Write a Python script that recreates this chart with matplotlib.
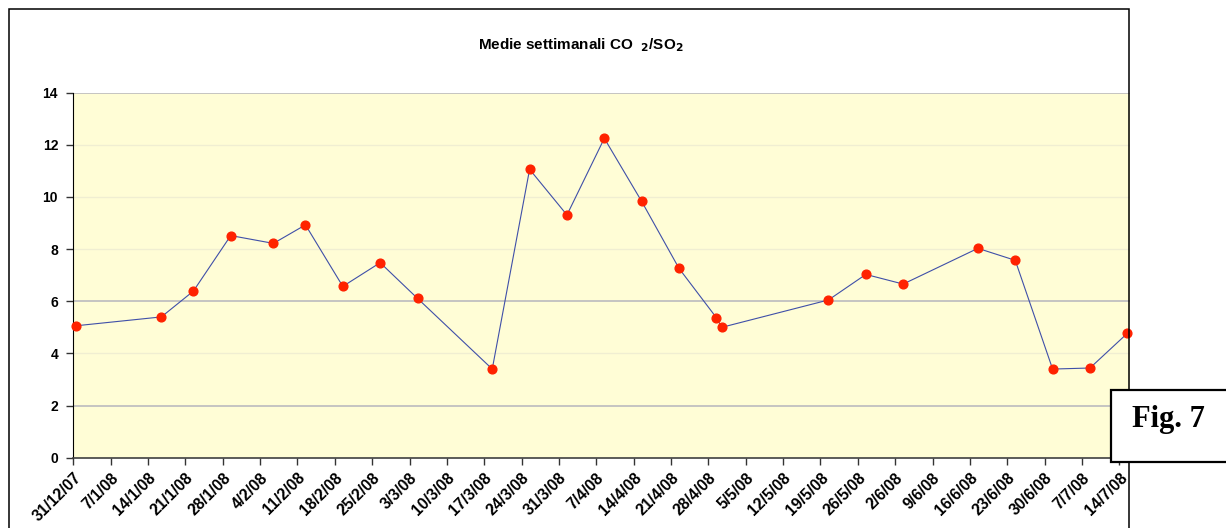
import numpy as np
import pandas as pd
import matplotlib
matplotlib.use("Agg")
import matplotlib.pyplot as plt
import matplotlib.dates as mdates
import matplotlib.transforms as mtransforms
from matplotlib.patches import Rectangle

plt.rcParams['font.family'] = ['Liberation Sans', 'DejaVu Sans']

# weekly CO2/SO2 means (date of each value)
dates = ["31/12/07", "16/01/08", "22/01/08", "29/01/08", "06/02/08", "12/02/08",
         "19/02/08", "26/02/08", "04/03/08", "18/03/08", "25/03/08", "01/04/08",
         "08/04/08", "15/04/08", "22/04/08", "29/04/08", "30/04/08", "20/05/08",
         "27/05/08", "03/06/08", "17/06/08", "24/06/08", "01/07/08", "08/07/08",
         "15/07/08"]
ratio = [5.06, 5.40, 6.39, 8.52, 8.22, 8.93,
         6.57, 7.48, 6.11, 3.40, 11.06, 9.31,
         12.25, 9.83, 7.26, 5.37, 5.00, 6.05,
         7.03, 6.66, 8.03, 7.57, 3.40, 3.44,
         4.77]

tick_labels = ["31/12/07", "7/1/08", "14/1/08", "21/1/08", "28/1/08", "4/2/08",
               "11/2/08", "18/2/08", "25/2/08", "3/3/08", "10/3/08", "17/3/08",
               "24/3/08", "31/3/08", "7/4/08", "14/4/08", "21/4/08", "28/4/08",
               "5/5/08", "12/5/08", "19/5/08", "26/5/08", "2/6/08", "9/6/08",
               "16/6/08", "23/6/08", "30/6/08", "7/7/08", "14/7/08"]
y_ticks = [0, 2, 4, 6, 8, 10, 12, 14]

x = mdates.date2num(pd.to_datetime(dates, format="%d/%m/%y")) + 0.5  # centre of the day
xt = mdates.date2num(pd.to_datetime(tick_labels, format="%d/%m/%y"))

W, H = 1226, 528
fig = plt.figure(figsize=(W / 100, H / 100), dpi=100)
ax = fig.add_axes([73.3 / W, 1 - 457.7 / H, (1130 - 73.3) / W, (457.7 - 92.7) / H])
ax.set_facecolor("#FFFDD6")

# grid (Excel look: some lines strong, some faint)
for g in y_ticks[1:]:
    if g in (2, 6, 14):
        ax.axhline(g, color="#C0C0C0", lw=1.3, zorder=1)
    else:
        ax.axhline(g, color="#F0EED2", lw=1.0, zorder=1)

ax.plot(x, ratio, color="#3F4FA8", lw=0.8, zorder=3, clip_on=False)
ax.plot(x, ratio, ls="none", marker="o", ms=6.3, color="#FF2200", mec="#FF2200", zorder=4, clip_on=False)

ax.set_xlim(xt[0], xt[0] + 198)
ax.set_ylim(0, 14)
ax.set_yticks(y_ticks)
ax.set_yticklabels([str(v) for v in y_ticks], fontsize=10, fontweight="bold")
ax.set_xticks(xt)
ax.set_xticklabels(tick_labels, rotation=45, ha="right", rotation_mode="anchor",
                   fontsize=11.3, fontweight="bold")
shift = mtransforms.ScaledTranslation(-6 / 100, -5 / 100, fig.dpi_scale_trans)
for lab in ax.get_xticklabels():
    lab.set_transform(lab.get_transform() + shift)
ax.tick_params(axis="both", direction="out", length=5, width=1, color="#333333", pad=4)
ax.tick_params(axis="y", pad=6)

for s in ["top", "right"]:
    ax.spines[s].set_visible(False)
ax.spines["left"].set_color("black")
ax.spines["bottom"].set_color("#404040")
ax.spines["bottom"].set_linewidth(1.2)

fig.text(581 / W, 1 - 45 / H, r"Medie settimanali CO  $_\mathbf{2}$/SO$_\mathbf{2}$",
         ha="center", va="center", fontsize=11, fontweight="bold")

# chart area border
fig.add_artist(Rectangle((9 / W, -0.1), (1129 - 9) / W, 1.1 - 9 / H, transform=fig.transFigure,
                         fill=False, ec="black", lw=1.1, zorder=5))

# Fig. 7 label box
fig.add_artist(Rectangle((1111 / W, 1 - 462 / H), 0.2, (462 - 390) / H, transform=fig.transFigure,
                         fc="white", ec="black", lw=1.6, zorder=6))
fig.text(1168 / W, 1 - 420 / H, "Fig. 7", ha="center", va="center", fontsize=22,
         fontweight="bold", family="Liberation Serif", zorder=7)

fig.savefig("out.png", dpi=100)
